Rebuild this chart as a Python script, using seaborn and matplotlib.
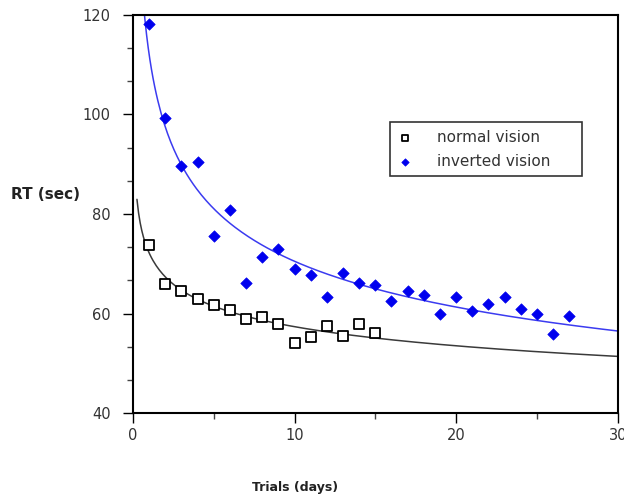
import numpy as np
import matplotlib
matplotlib.use("Agg")
import matplotlib.pyplot as plt
from matplotlib.ticker import MultipleLocator, AutoMinorLocator
import seaborn as sns

# data
normal_days = [1, 2, 3, 4, 5, 6, 7, 8, 9, 10, 11, 12, 13, 14, 15]
normal_rt = [73.8, 65.9, 64.6, 63.0, 61.8, 60.8, 59.0, 59.4, 57.9, 54.0,
             55.2, 57.5, 55.5, 57.9, 56.1]

inverted_days = list(range(1, 28))
inverted_rt = [118.1, 99.3, 89.7, 90.5, 75.6, 80.8, 66.1, 71.3, 72.9, 68.9,
               67.7, 63.3, 68.1, 66.1, 65.7, 62.6, 64.5, 63.7, 60.0, 63.3,
               60.5, 62.0, 63.3, 60.9, 60.0, 56.0, 59.6]

sns.set_style("ticks")
plt.rcParams['font.family'] = ['DejaVu Sans']

fig = plt.figure(figsize=(6.24, 4.96), dpi=100)
ax = fig.add_axes([0.213, 0.167, 0.777, 0.803])

# power-law trend lines (like a spreadsheet "power" trendline)
xs = np.linspace(0.25, 30, 300)
for days, rt, col in [(normal_days, normal_rt, "#3a3a3a"),
                      (inverted_days, inverted_rt, "#3b3bf0")]:
    b, lna = np.polyfit(np.log(days), np.log(rt), 1)
    sns.lineplot(x=xs, y=np.exp(lna) * xs ** b, color=col, lw=1.1, ax=ax)

sns.scatterplot(x=normal_days, y=normal_rt, marker="s", s=50, facecolor="white",
                edgecolor="black", linewidth=1.3, label="normal vision", ax=ax, zorder=3)
sns.scatterplot(x=inverted_days, y=inverted_rt, marker="D", s=34, color="#0000ee",
                edgecolor="#0000ee", label="inverted vision", ax=ax, zorder=3)

ax.set_xlim(0, 30)
ax.set_ylim(40, 120)
ax.xaxis.set_major_locator(MultipleLocator(10))
ax.xaxis.set_minor_locator(MultipleLocator(5))
ax.yaxis.set_major_locator(MultipleLocator(20))
ax.yaxis.set_minor_locator(AutoMinorLocator(3))
ax.tick_params(which="major", length=7, width=1, colors="black", labelcolor="#333333",
               labelsize=10.5)
ax.tick_params(axis="y", which="major", pad=9)
ax.tick_params(which="minor", length=4, width=1, colors="#444444")
for sp in ax.spines.values():
    sp.set_visible(True)
    sp.set_linewidth(1.5)
    sp.set_color("black")

ax.set_xlabel("Trials (days)", fontsize=9, fontweight="bold", color="#222222")
ax.set_ylabel("RT (sec)", fontsize=11, fontweight="bold", color="#222222", rotation=0,
              va="center", ha="center")
ax.xaxis.set_label_coords(0.334, -0.171)
ax.yaxis.set_label_coords(-0.181, 0.548)

leg = ax.legend(loc="upper left", bbox_to_anchor=(0.53, 0.596, 0.396, 0.135),
                mode="expand", borderaxespad=0,
                fontsize=11, frameon=True, fancybox=False, handletextpad=1.6,
                borderpad=0.5, labelspacing=0.6, handlelength=1.0, markerscale=0.65)
leg.get_frame().set_edgecolor("black")
leg.get_frame().set_linewidth(1.2)
for t in leg.get_texts():
    t.set_color("#333333")

fig.savefig("out.png", dpi=100)
